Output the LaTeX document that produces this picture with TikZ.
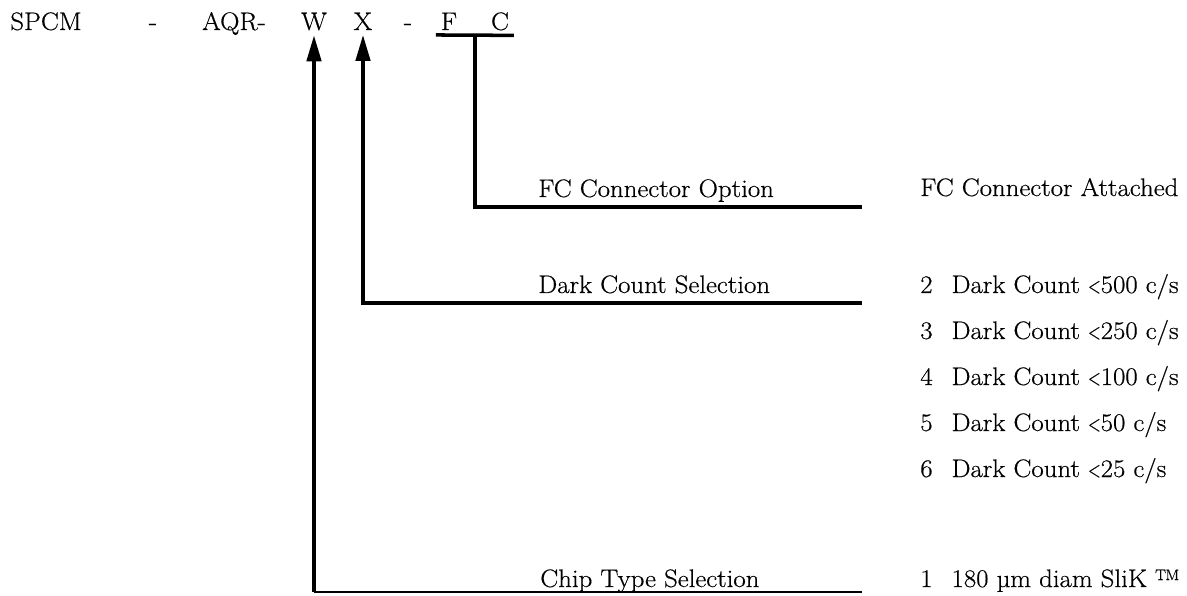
\documentclass[tikz,border=0pt]{standalone}
\usepackage{fontspec}
\setmainfont{Latin Modern Roman}[FakeStretch=1.06, FakeBold=0.5]
\usepackage{tikz}
\usetikzlibrary{calc, arrows.meta}
\newcommand\lessthan{\scalebox{0.62}[0.9]{<}}

\begin{document}
\begin{tikzpicture}[
  x=0.025cm, y=-0.025cm,
  font=\fontsize{18}{21}\selectfont,
  code/.style={anchor=base},
  lbl/.style={anchor=base west, inner sep=0pt},
  bar/.style={line width=2.5pt},
  pointer/.style={line width=2.5pt, -{Triangle[length=6.5mm, width=3.6mm]}},
  rule/.style={line width=0.9pt}
]
\useasboundingbox (0,0) rectangle (1187,596);
\node[code] (spcm) at (46,30)  {SPCM};
\node[code] (d1)   at (153,30) {-};
\node[code] (aqr)  at (234,30) {AQR-};
\node[code] (w)    at (314,30) {W};
\node[code] (x)    at (363,30) {X};
\node[code] (d2)   at (408,30) {-};
\node[code] (f)    at (449,30) {F};
\node[code] (c)    at (500,30) {C};

\node[lbl] (fcopt)   at (538,197) {FC Connector Option};
\node[lbl] (dcsel)   at (538,293) {Dark Count Selection};
\node[lbl] (chipsel) at (540,587) {Chip Type Selection};

\node[lbl] (fcatt) at (920,196) {FC Connector Attached};
\node[lbl] (dc2)   at (920,293) {2\hspace{0.75em}Dark Count \lessthan500 c/s};
\node[lbl] (dc3)   at (920,339) {3\hspace{0.75em}Dark Count \lessthan250 c/s};
\node[lbl] (dc4)   at (920,385) {4\hspace{0.75em}Dark Count \lessthan100 c/s};
\node[lbl] (dc5)   at (920,431) {5\hspace{0.75em}Dark Count \lessthan50 c/s};
\node[lbl] (dc6)   at (920,477) {6\hspace{0.75em}Dark Count \lessthan25 c/s};
\node[lbl] (chip1) at (920,587) {1\hspace{0.75em}180 µm diam SliK ™};

\coordinate (fcend)   at (862,207);
\coordinate (dcend)   at (862,303);
\coordinate (chipend) at (862,592);
\coordinate (barmid)  at ($(f.south west)!0.5!(c.south east)$);

\draw[bar] (f.south west) -- (c.south east);
\draw[bar] (barmid) |- (fcend);
\draw[pointer] (dcend) -| (x.south);
\draw[rule] (chipend) -- (chipend -| w.south);
\draw[pointer] (chipend -| w.south) -- (w.south);
\end{tikzpicture}
\end{document}
